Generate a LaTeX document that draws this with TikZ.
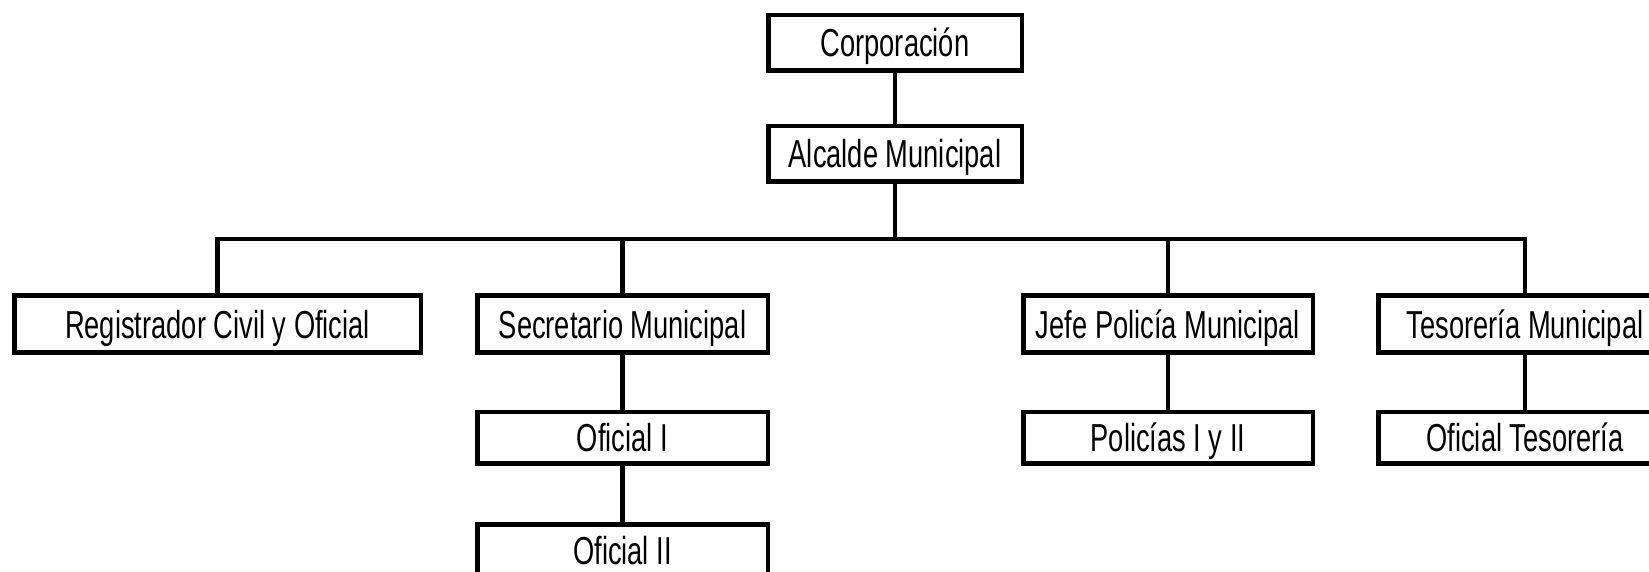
\documentclass[tikz,border=0pt]{standalone}
\usepackage{fontspec}
\setmainfont{Liberation Sans}[FakeStretch=0.70]
\begin{document}
\begin{tikzpicture}[x=1pt,y=-1pt,
  box/.style={draw=black, line width=4.5pt, fill=white, inner sep=0pt,
    text height=28pt, text depth=0pt,
    font=\fontsize{39}{44}\selectfont},
  bigrow/.style={box, minimum height=57pt},
  smallrow/.style={box, minimum height=51.5pt},
  conn/.style={draw=black, line width=4.5pt, line join=miter}]
\useasboundingbox (0,0) rectangle (1649,572);
\clip (0,0) rectangle (1649,572);
\fill[white] (0,0) rectangle (1649,572);
% nodes
\node[box, minimum width=253.5pt, minimum height=55.5pt] (corp) at (895,43) {Corporación};
\node[box, minimum width=253.5pt, minimum height=55.5pt] (alc) at (895,154) {Alcalde Municipal};
\node[bigrow, minimum width=406.5pt] (reg) at (217.5,324) {Registrador Civil y Oficial};
\node[bigrow, minimum width=290.5pt] (sec) at (622.5,324) {Secretario Municipal};
\node[bigrow, minimum width=289.5pt] (jefe) at (1168,324) {Jefe Policía Municipal};
\node[bigrow, minimum width=293.5pt] (tes) at (1525,324) {Tesorería Municipal};
\node[smallrow, minimum width=290.5pt] (of1) at (622.5,437.5) {Oficial I};
\node[smallrow, minimum width=289.5pt] (pol) at (1168,437.5) {Policías I y II};
\node[smallrow, minimum width=293.5pt] (oft) at (1525,437.5) {Oficial Tesorería};
\node[smallrow, minimum width=290.5pt] (of2) at (622.5,550) {Oficial II};
\coordinate (bus) at (895,239);
% connectors
\draw[conn] (corp.south) -- (alc.north);
\draw[conn] (alc.south) -- (alc.south |- bus);
\draw[conn] (reg.north) -- (reg.north |- bus) -- (tes.north |- bus) -- (tes.north);
\draw[conn] (sec.north) -- (sec.north |- bus);
\draw[conn] (jefe.north) -- (jefe.north |- bus);
\draw[conn] (sec.south) -- (of1.north);
\draw[conn] (of1.south) -- (of2.north);
\draw[conn] (jefe.south) -- (pol.north);
\draw[conn] (tes.south) -- (oft.north);
\end{tikzpicture}
\end{document}
